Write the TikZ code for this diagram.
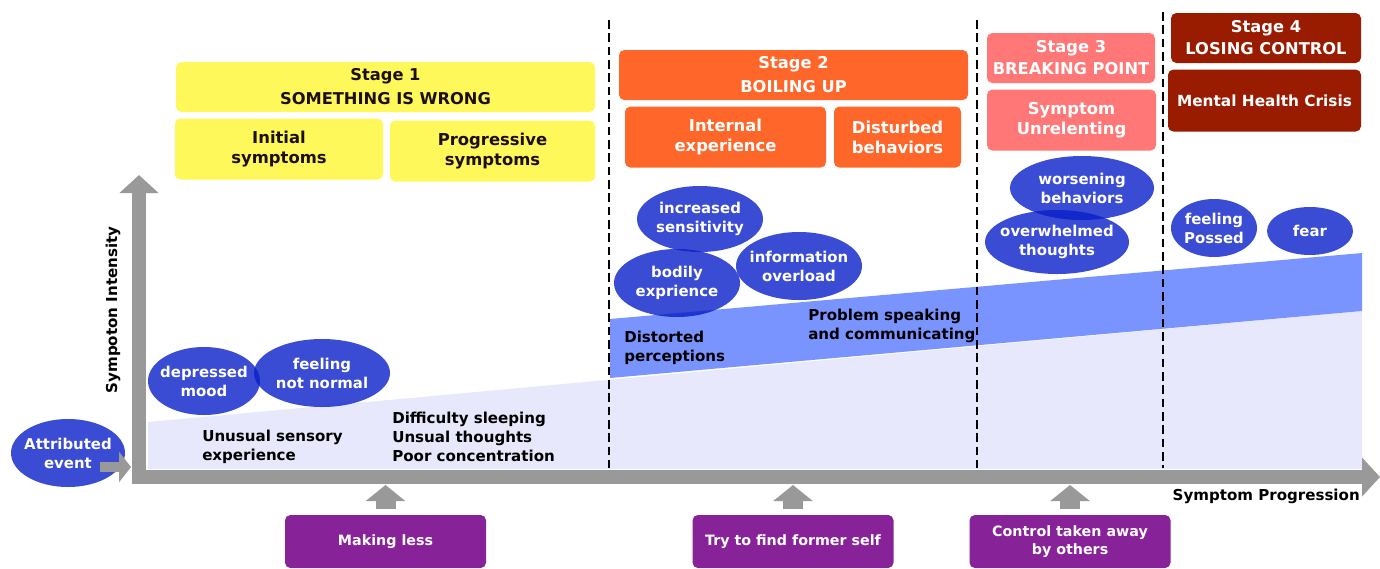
\documentclass[tikz,border=0pt]{standalone}
\usepackage{fontspec}
\setmainfont{DejaVu Sans}
\usepackage{tikz}
\usetikzlibrary{shapes.geometric, arrows.meta, positioning}
\definecolor{StageOne}{RGB}{255,248,90}
\definecolor{StageTwo}{RGB}{255,102,41}
\definecolor{StageThree}{RGB}{255,119,119}
\definecolor{StageFour}{RGB}{153,28,0}
\definecolor{SymBlue}{RGB}{9,30,201}
\definecolor{BandBlue}{RGB}{122,148,255}
\definecolor{BandLight}{RGB}{232,232,252}
\definecolor{CopePurple}{RGB}{136,34,153}
\definecolor{AxisGray}{RGB}{153,153,153}
\definecolor{Ink}{RGB}{30,15,15}

\begin{document}
\begin{tikzpicture}[
  x=0.75pt, y=-0.75pt,
  hdr/.style={rounded corners=4pt, align=center, inner sep=0pt, minimum height=37.5pt,
              font=\fontsize{12.2}{18}\selectfont\bfseries},
  sub/.style={rounded corners=4pt, align=center, inner sep=0pt, minimum height=45.75pt,
              font=\fontsize{12.3}{15}\selectfont\bfseries},
  sym/.style={ellipse, fill=SymBlue, fill opacity=0.8, text opacity=1, text=white,
              inner xsep=-25pt, inner ysep=-12pt, align=center,
              font=\fontsize{11.2}{14.3}\selectfont\bfseries},
  note/.style={anchor=west, align=left, inner sep=0pt, text=black,
               font=\fontsize{11.3}{14.3}\selectfont\bfseries},
  cope/.style={fill=CopePurple, rounded corners=4pt, text=white, inner sep=0pt,
               minimum width=150.75pt, minimum height=39.75pt, align=center,
               font=\fontsize{10.7}{13.5}\selectfont\bfseries},
  axisarr/.style={draw=AxisGray, line width=10.5pt, -{Triangle[length=13.5pt, width=28.5pt]}},
  evarr/.style={draw=AxisGray, line width=7.5pt, -{Triangle[length=9pt, width=22.5pt]}},
  uparr/.style={draw=AxisGray, line width=15pt, -{Triangle[length=12pt, width=29pt]}},
  stagesep/.style={draw=black, line width=2.2pt, dash pattern=on 6.5pt off 3.5pt},
]
\useasboundingbox (0,0) rectangle (1380,568);
%% intensity bands
\fill[BandLight] (148,469) -- (148,422) -- (1362,311) -- (1362,469) -- cycle;
\fill[BandBlue] (610,378) -- (610,319) -- (1362,253) -- (1362,311) -- cycle;
%% stage separators
\draw[stagesep] (609,20) -- (609,468);
\draw[stagesep] (977,20) -- (977,468);
\draw[stagesep] (1163,12) -- (1163,468);
%% axes
\draw[axisarr] (139,484) -- (139,175);
\draw[axisarr] (132,477) -- (1380,477);
\node[rotate=90, inner sep=0pt, font=\fontsize{11.3}{14}\selectfont\bfseries] (ylab) at (113,310) {Sympoton Intensity};
\node[anchor=east, inner sep=0pt, font=\fontsize{11.3}{14}\selectfont\bfseries] (xlab) at (1360,496) {Symptom Progression};
\coordinate (axisfoot) at (0,485);
\coordinate (evtip) at (131,467);
%% Stage 1
\node[hdr, fill=StageOne, text=Ink, minimum width=314.25pt] (s1) at (385.5,87) {Stage 1\\SOMETHING IS WRONG};
\node[sub, fill=StageOne, text=Ink, minimum width=156pt, below right=4.5pt and -0.75pt of s1.south west] (s1a) {Initial\\symptoms};
\node[sub, fill=StageOne, text=Ink, minimum width=153.75pt, below left=6pt and 0pt of s1.south east] (s1b) {Progressive\\symptoms};
%% Stage 2
\node[hdr, fill=StageTwo, text=white, minimum width=261.75pt] (s2) at (793.5,75) {Stage 2\\BOILING UP};
\node[sub, fill=StageTwo, text=white, minimum width=150.75pt, below right=4.5pt and 4.5pt of s2.south west] (s2a) {Internal\\experience};
\node[sub, fill=StageTwo, text=white, minimum width=95.25pt, below left=4.5pt and 5.25pt of s2.south east] (s2b) {Disturbed\\behaviors};
%% Stage 3
\node[hdr, fill=StageThree, text=white, minimum width=126pt, font=\fontsize{12.2}{16.5}\selectfont\bfseries] (s3) at (1071,58) {Stage 3\\BREAKING POINT};
\node[sub, fill=StageThree, text=white, minimum width=126.75pt, below right=4.5pt and 0pt of s3.south west] (s3a) {Symptom\\Unrelenting};
%% Stage 4
\node[hdr, fill=StageFour, text=white, minimum width=142.5pt, font=\fontsize{12.2}{16.5}\selectfont\bfseries] (s4) at (1266,38) {Stage 4\\LOSING CONTROL};
\node[sub, fill=StageFour, text=white, minimum width=144.75pt, minimum height=46.5pt, font=\fontsize{11.5}{15}\selectfont\bfseries, below left=4.5pt and 0pt of s4.south east] (s4a) {Mental Health Crisis};
%% symptoms
\node[sym, minimum width=85.5pt, minimum height=51pt] (attr) at (68,453) {Attributed\\event};
\draw[evarr] ([shift={(32,14)}]attr.center) -- (evtip);
\node[sym, minimum width=84pt, minimum height=51pt] (depr) at (204,381) {depressed\\mood};
\node[sym, minimum width=102pt, minimum height=51pt] (notnorm) at (322,373) {feeling\\not normal};
\node[sym, minimum width=94.5pt, minimum height=49.5pt] (sens) at (700,219) {increased\\sensitivity};
\node[sym, minimum width=94.5pt, minimum height=51pt] (bodily) at (677,283) {bodily\\exprience};
\node[sym, minimum width=94.5pt, minimum height=51pt] (overload) at (799,266) {information\\overload};
\node[sym, minimum width=108pt, minimum height=48pt] (worse) at (1082,188) {worsening\\behaviors};
\node[sym, minimum width=108pt, minimum height=48pt] (overwh) at (1057,242) {overwhelmed\\thoughts};
\node[sym, minimum width=64.5pt, minimum height=43.5pt] (possed) at (1214,228) {feeling\\Possed};
\node[sym, minimum width=64.5pt, minimum height=36pt] (fear) at (1310,231) {fear};
%% notes on the bands
\node[note] (sensory) at (202,446.5) {Unusual sensory\\experience};
\node[note] (sleep) at (392,437) {Difficulty sleeping\\Unsual thoughts\\Poor concentration};
\node[note] (distort) at (624,347.5) {Distorted\\perceptions};
\node[note] (speak) at (808,325.5) {Problem speaking\\and communicating};
%% coping responses
\node[cope] (making) at (385.5,541.5) {Making less};
\node[cope] (former) at (793,541.5) {Try to find former self};
\node[cope] (control) at (1070,541.5) {Control taken away\\by others};
\draw[uparr] ([yshift=4.5pt]making.north) -- (making.north |- axisfoot);
\draw[uparr] ([yshift=4.5pt]former.north) -- (former.north |- axisfoot);
\draw[uparr] ([yshift=4.5pt]control.north) -- (control.north |- axisfoot);
\end{tikzpicture}
\end{document}
